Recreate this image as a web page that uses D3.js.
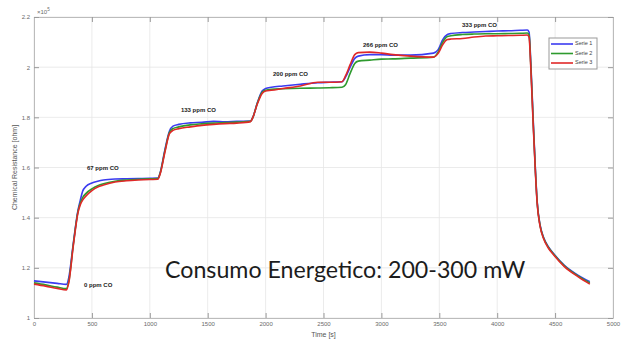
<!DOCTYPE html>
<html><head><meta charset="utf-8">
<script src="https://cdn.jsdelivr.net/npm/d3@7"></script>
<style>body{margin:0;background:#fff}svg{display:block}</style>
</head><body>
<svg id="c" width="621" height="341"></svg>
<script>
const times = [0,100,200,280,300,340,380,400,420,450,500,550,600,700,800,900,1000,1070,1090,1130,1170,1200,1250,1350,1450,1550,1650,1750,1870,1890,1930,1970,2000,2050,2150,2300,2450,2550,2660,2690,2730,2770,2800,2900,3000,3100,3250,3450,3490,3530,3570,3600,3700,3800,3900,4000,4100,4200,4260,4275,4290,4310,4330,4345,4370,4400,4440,4490,4580,4700,4800];
const serie1 = [1.148,1.143,1.138,1.134,1.16,1.30,1.43,1.47,1.505,1.525,1.538,1.545,1.55,1.554,1.555,1.556,1.557,1.558,1.58,1.67,1.745,1.765,1.772,1.778,1.780,1.784,1.782,1.784,1.785,1.80,1.86,1.905,1.915,1.92,1.925,1.932,1.938,1.94,1.942,1.96,2.00,2.035,2.044,2.05,2.05,2.048,2.048,2.056,2.07,2.11,2.13,2.134,2.138,2.14,2.142,2.144,2.145,2.147,2.148,2.14,2.02,1.80,1.59,1.465,1.372,1.322,1.285,1.255,1.21,1.17,1.145];
const serie2 = [1.14,1.132,1.123,1.117,1.145,1.295,1.425,1.458,1.48,1.497,1.515,1.527,1.535,1.545,1.55,1.553,1.555,1.556,1.578,1.665,1.74,1.755,1.762,1.77,1.774,1.777,1.779,1.781,1.784,1.80,1.858,1.90,1.908,1.912,1.914,1.916,1.917,1.918,1.92,1.93,1.975,2.015,2.024,2.028,2.032,2.033,2.036,2.04,2.06,2.10,2.122,2.125,2.13,2.132,2.133,2.133,2.134,2.135,2.136,2.13,2.01,1.79,1.585,1.462,1.369,1.32,1.283,1.253,1.208,1.167,1.14];
const serie3 = [1.135,1.127,1.118,1.112,1.14,1.29,1.42,1.452,1.47,1.487,1.508,1.522,1.53,1.542,1.547,1.55,1.552,1.553,1.575,1.66,1.735,1.748,1.755,1.762,1.768,1.772,1.775,1.777,1.783,1.80,1.855,1.895,1.905,1.908,1.915,1.925,1.94,1.94,1.942,1.965,2.01,2.05,2.058,2.06,2.056,2.05,2.044,2.04,2.055,2.09,2.11,2.112,2.114,2.12,2.124,2.125,2.126,2.127,2.128,2.12,2.00,1.78,1.58,1.458,1.366,1.317,1.28,1.25,1.205,1.164,1.135];
const seriesNames = ["Serie 1","Serie 2","Serie 3"];
const seriesColors = ["#3b3bf0","#2e9a2e","#e02828"];
const xTicks = [0,500,1000,1500,2000,2500,3000,3500,4000,4500,5000];
const yTicks = [1,1.2,1.4,1.6,1.8,2,2.2];
const annLabels = ["0 ppm CO","67 ppm CO","133 ppm CO","200 ppm CO","266 ppm CO","333 ppm CO"];
const annTimes = [432,458,1269,2064,2841,3696];
const annValues = [1.128,1.596,1.828,1.972,2.088,2.168];

const svg = d3.select("#c");
const x = d3.scaleLinear().domain([0,5000]).range([34,613]);
const y = d3.scaleLinear().domain([1,2.2]).range([318,17]);

// grid
const g = svg.append("g");
g.selectAll(".gx").data(xTicks).join("line")
  .attr("x1",d=>x(d)).attr("x2",d=>x(d)).attr("y1",y(1)).attr("y2",y(2.2))
  .attr("stroke","#e6e6e6").attr("stroke-width",0.8);
g.selectAll(".gy").data(yTicks).join("line")
  .attr("x1",x(0)).attr("x2",x(5000)).attr("y1",d=>y(d)).attr("y2",d=>y(d))
  .attr("stroke","#e6e6e6").attr("stroke-width",0.8);

// axes
const axStyle = sel => {
  sel.select(".domain").attr("stroke","#bcbcbc");
  sel.selectAll(".tick line").attr("stroke","#9a9a9a");
  sel.selectAll("text").attr("fill","#6a6a6a").attr("font-family","Liberation Sans, Arial, sans-serif").attr("font-size",6);
};
svg.append("g").attr("transform",`translate(0,${y(1)})`)
  .call(d3.axisBottom(x).tickValues(xTicks).tickSize(-5).tickSizeOuter(0).tickPadding(4).tickFormat(d3.format("d")))
  .call(axStyle);
svg.append("g").attr("transform",`translate(0,${y(2.2)})`)
  .call(d3.axisTop(x).tickValues(xTicks).tickSize(-5).tickSizeOuter(0).tickFormat(""))
  .call(axStyle);
svg.append("g").attr("transform",`translate(${x(0)},0)`)
  .call(d3.axisLeft(y).tickValues(yTicks).tickSize(-5).tickSizeOuter(0).tickPadding(4).tickFormat(d3.format(".1~f")))
  .call(axStyle);
svg.append("g").attr("transform",`translate(${x(5000)},0)`)
  .call(d3.axisRight(y).tickValues(yTicks).tickSize(-5).tickSizeOuter(0).tickFormat(""))
  .call(axStyle);

// exponent
const ex = svg.append("text").attr("x",x(0)+3).attr("y",y(2.2)-3)
  .attr("font-family","Liberation Sans, Arial, sans-serif").attr("font-size",6).attr("fill","#6a6a6a");
ex.append("tspan").text("\u00d710");
ex.append("tspan").attr("dy",-3).attr("font-size",4.5).text("5");

// axis labels
svg.append("text").attr("x",(x(0)+x(5000))/2).attr("y",337).attr("text-anchor","middle")
  .attr("font-family","Liberation Sans, Arial, sans-serif").attr("font-size",7).attr("fill","#555").text("Time [s]");
svg.append("text").attr("transform",`translate(17,${(y(1)+y(2.2))/2}) rotate(-90)`).attr("text-anchor","middle")
  .attr("font-family","Liberation Sans, Arial, sans-serif").attr("font-size",7).attr("fill","#555").text("Chemical Resistance [ohm]");

// lines
const allSeries = [serie1,serie2,serie3];
const line = d3.line().x((d,i)=>x(times[i])).y(d=>y(d)).curve(d3.curveMonotoneX);
svg.selectAll(".ln").data(allSeries).join("path")
  .attr("d",d=>line(d)).attr("fill","none")
  .attr("stroke",(d,i)=>seriesColors[i]).attr("stroke-width",1.6).attr("stroke-linejoin","round");

// annotations
svg.selectAll(".ann").data(annLabels).join("text")
  .attr("x",(d,i)=>x(annTimes[i])).attr("y",(d,i)=>y(annValues[i]))
  .attr("dominant-baseline","middle")
  .attr("font-family","Liberation Sans, Arial, sans-serif").attr("font-size",6).attr("font-weight","bold").attr("fill","#222")
  .text(d=>d);

// legend
const lg = svg.append("g");
lg.append("rect").attr("x",549).attr("y",38).attr("width",48).attr("height",31)
  .attr("fill","#fff").attr("stroke","#9a9a9a").attr("stroke-width",1);
seriesNames.forEach((n,i)=>{
  lg.append("line").attr("x1",551).attr("x2",573).attr("y1",44+i*9.5).attr("y2",44+i*9.5)
    .attr("stroke",seriesColors[i]).attr("stroke-width",1.6);
  lg.append("text").attr("x",575).attr("y",44+i*9.5).attr("dominant-baseline","middle")
    .attr("font-family","Liberation Sans, Arial, sans-serif").attr("font-size",5.5).attr("fill","#444").text(n);
});

// big overlay text
svg.append("text").attr("x",165).attr("y",278)
  .attr("font-family","Lato, 'Open Sans', sans-serif").attr("font-size",23.2).attr("fill","#1c1c1c")
  .text("Consumo Energetico: 200-300 mW");
</script>
</body></html>
